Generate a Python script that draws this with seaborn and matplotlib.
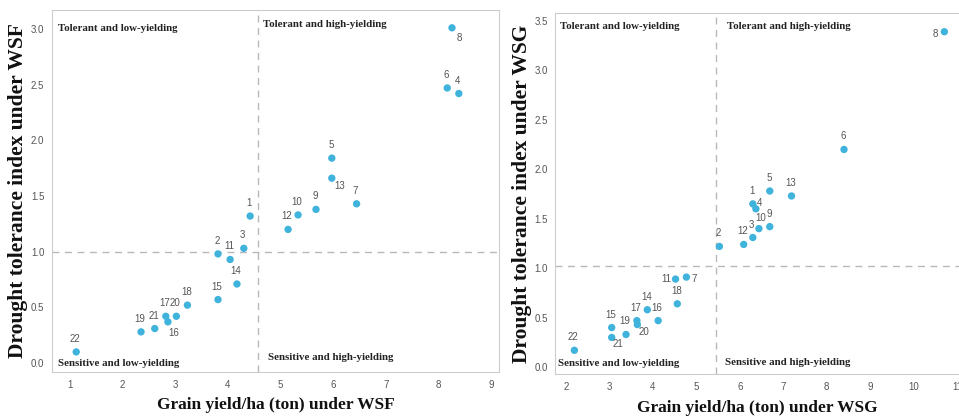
import numpy as np
import pandas as pd
import matplotlib
matplotlib.use('Agg')
import matplotlib.pyplot as plt
import seaborn as sns

# --- data ---
genotypes = list(range(1, 23))

wsf_yield = [4.42, 3.81, 4.30, 8.38, 5.97, 8.16, 6.44, 8.25, 5.67, 5.33, 4.04,
             5.14, 5.97, 4.17, 3.81, 2.86, 2.82, 3.23, 2.35, 3.02, 2.61, 1.12]
wsf_dti = [1.32, 0.98, 1.03, 2.42, 1.84, 2.47, 1.43, 3.01, 1.38, 1.33, 0.93,
           1.20, 1.66, 0.71, 0.57, 0.37, 0.42, 0.52, 0.28, 0.42, 0.31, 0.10]

wsg_yield = [6.30, 5.53, 6.30, 6.37, 6.69, 8.40, 4.77, 10.71, 6.69, 6.44, 4.52,
             6.09, 7.19, 3.87, 3.05, 4.12, 3.63, 4.56, 3.38, 3.64, 3.05, 2.19]
wsg_dti = [1.65, 1.22, 1.31, 1.60, 1.78, 2.20, 0.91, 3.39, 1.42, 1.40, 0.89,
           1.24, 1.73, 0.58, 0.40, 0.47, 0.47, 0.64, 0.33, 0.43, 0.30, 0.17]

wsf_cut = (4.57, 1.0)
wsg_cut = (5.46, 1.02)

quadrants = ["Tolerant and low-yielding", "Tolerant and high-yielding",
             "Sensitive and low-yielding", "Sensitive and high-yielding"]

# label offsets in pixels (dx, dy) -- default is just above the point
WSF_OFFSETS = {16: (6, -11), 13: (8, -8), 8: (7, -10)}
WSG_OFFSETS = {8: (-9, -2), 4: (4, 6), 10: (2, 11), 11: (-9, 0), 7: (8, -2),
               20: (7, -7), 21: (6, -7)}

df_f = pd.DataFrame({"id": genotypes, "x": wsf_yield, "y": wsf_dti})
df_g = pd.DataFrame({"id": genotypes, "x": wsg_yield, "y": wsg_dti})

sns.set_style("white")
plt.rcParams['font.family'] = ['Liberation Sans', 'DejaVu Sans']

POINT = "#3fb3dc"
GRID = "#b8b8b8"
TXT = "#555555"
SERIF = ['Liberation Serif', 'DejaVu Serif']

fig = plt.figure(figsize=(9.59, 4.17), dpi=100)
ax1 = fig.add_axes([0.0542, 0.108, 0.466, 0.868])
ax2 = fig.add_axes([0.579, 0.103, 0.422, 0.866])


def draw_panel(ax, df, cut, offsets, xlim, ylim, xticks, yticks, qpos, env):
    ax.axvline(cut[0], color=GRID, ls=(0, (5, 4)), lw=1, zorder=1)
    ax.axhline(cut[1], color=GRID, ls=(0, (5, 4)), lw=1, zorder=1)
    sns.scatterplot(data=df, x="x", y="y", ax=ax, color=POINT, s=28,
                    edgecolor="none", zorder=3)
    for gid, x, y in zip(df["id"], df["x"], df["y"]):
        dx, dy = offsets.get(gid, (-1, 13))
        ax.annotate(str(gid), (x, y), xytext=(dx, dy), textcoords="offset pixels",
                    ha="center", va="center", fontsize=7, color=TXT)
    for txt, (qx, qy) in zip(quadrants, qpos):
        ax.text(qx, qy, txt, ha="left", va="center", fontsize=7.8,
                fontweight="bold", family=SERIF, color="#222222")
    ax.set_xlim(*xlim)
    ax.set_ylim(*ylim)
    ax.set_xticks(xticks)
    ax.set_yticks(yticks)
    ax.set_yticklabels([f"{v:.1f}" for v in yticks])
    ax.tick_params(axis="both", labelsize=7, colors=TXT, length=2, width=0.6)
    for sp in ax.spines.values():
        sp.set_color("#cccccc")
        sp.set_linewidth(0.8)
    ax.set_xlabel(f"Grain yield/ha (ton) under {env}", fontsize=12.5,
                  fontweight="bold", family=SERIF, color="#111111")
    ax.set_ylabel(f"Drought tolerance index under {env}", fontsize=15.5,
                  fontweight="bold", family=SERIF, color="#111111")


draw_panel(ax1, df_f, wsf_cut, WSF_OFFSETS, (0.66, 9.14), (-0.08, 3.17),
           range(1, 10), np.arange(0, 3.01, 0.5),
           [(0.77, 3.0), (4.67, 3.04), (0.77, 0.0), (4.76, 0.05)], "WSF")
ax1.xaxis.set_label_coords(0.5, -0.069)
ax1.yaxis.set_label_coords(-0.054, 0.5)

draw_panel(ax2, df_g, wsg_cut, WSG_OFFSETS, (1.75, 11.07), (-0.07, 3.58),
           range(2, 12), np.arange(0, 3.51, 0.5),
           [(1.86, 3.44), (5.70, 3.44), (1.82, 0.04), (5.65, 0.05)], "WSG")
ax2.xaxis.set_label_coords(0.5, -0.072)
ax2.yaxis.set_label_coords(-0.057, 0.5)

fig.savefig("out.png", dpi=100)
plt.close(fig)
